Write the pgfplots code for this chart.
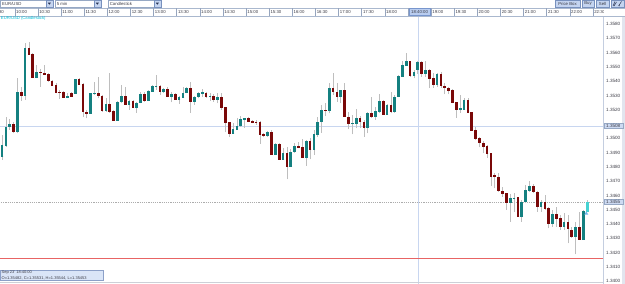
\documentclass[border=0pt]{standalone}
\usepackage{fontspec}
\setmainfont{Liberation Sans}
\usepackage{pgfplots}
\usepackage{pgfplotstable}
\pgfplotsset{compat=1.18}
\definecolor{upc}{RGB}{20,128,128}
\definecolor{dnc}{RGB}{122,8,8}
\definecolor{wick}{RGB}{190,190,190}
\definecolor{lastc}{RGB}{70,210,210}
\definecolor{xhair}{RGB}{200,214,240}
\definecolor{uiborder}{RGB}{150,168,196}
\definecolor{uifill}{RGB}{205,218,242}
\definecolor{ttl}{RGB}{0,190,215}
\definecolor{reddl}{RGB}{232,100,100}
\definecolor{txt}{RGB}{60,60,70}
\definecolor{strip}{RGB}{226,229,238}
\definecolor{scaleb}{RGB}{196,206,224}
\definecolor{tri}{RGB}{110,180,232}
\definecolor{tbline}{RGB}{170,184,206}
\definecolor{sepc}{RGB}{150,165,190}
\definecolor{hlfill}{RGB}{185,205,240}
\definecolor{hldraw}{RGB}{120,150,205}
\definecolor{btnfill}{RGB}{196,212,240}
\definecolor{btndraw}{RGB}{120,145,190}
\definecolor{arrowc}{RGB}{40,50,80}
\definecolor{ftdraw}{RGB}{140,160,200}
\definecolor{ftfill}{RGB}{218,229,247}
\definecolor{botl}{RGB}{205,208,215}
\newcommand\uif{\fontsize{4.3}{5}\selectfont}

\pgfplotstableread{
t o h l c
-20 1.34876 1.35023 1.34848 1.34953
-15 1.34953 1.35151 1.34941 1.35081
-10 1.35081 1.35133 1.35058 1.35100
-5 1.35098 1.35116 1.35035 1.35046
0 1.35046 1.35420 1.35035 1.35326
5 1.35326 1.35361 1.35263 1.35298
10 1.35298 1.35665 1.35268 1.35630
15 1.35630 1.35676 1.35583 1.35590
20 1.35590 1.35595 1.35420 1.35424
25 1.35424 1.35513 1.35420 1.35466
30 1.35462 1.35483 1.35361 1.35459
35 1.35459 1.35513 1.35443 1.35450
40 1.35452 1.35455 1.35396 1.35403
45 1.35403 1.35408 1.35366 1.35373
50 1.35373 1.35385 1.35315 1.35319
55 1.35324 1.35338 1.35275 1.35322
60 1.35324 1.35329 1.35280 1.35284
65 1.35284 1.35319 1.35280 1.35296
70 1.35315 1.35322 1.35291 1.35296
75 1.35315 1.35418 1.35310 1.35415
80 1.35415 1.35420 1.35373 1.35380
85 1.35380 1.35385 1.35151 1.35186
90 1.35186 1.35198 1.35140 1.35177
95 1.35177 1.35319 1.35170 1.35315
100 1.35315 1.35396 1.35303 1.35317
105 1.35315 1.35431 1.35280 1.35298
110 1.35298 1.35303 1.35186 1.35198
115 1.35198 1.35280 1.35186 1.35240
120 1.35240 1.35459 1.35179 1.35186
125 1.35191 1.35198 1.35123 1.35128
130 1.35128 1.35261 1.35123 1.35256
135 1.35256 1.35373 1.35245 1.35298
140 1.35298 1.35361 1.35233 1.35240
145 1.35240 1.35268 1.35198 1.35261
150 1.35261 1.35268 1.35210 1.35217
155 1.35217 1.35256 1.35179 1.35249
160 1.35249 1.35326 1.35245 1.35310
165 1.35310 1.35326 1.35256 1.35268
170 1.35268 1.35338 1.35263 1.35331
175 1.35331 1.35373 1.35326 1.35366
180 1.35366 1.35443 1.35338 1.35369
185 1.35366 1.35373 1.35303 1.35326
190 1.35326 1.35352 1.35317 1.35345
195 1.35345 1.35357 1.35291 1.35296
200 1.35296 1.35326 1.35252 1.35310
205 1.35308 1.35319 1.35273 1.35275
210 1.35275 1.35296 1.35240 1.35287
215 1.35287 1.35361 1.35280 1.35319
220 1.35319 1.35361 1.35315 1.35352
225 1.35352 1.35396 1.35179 1.35261
230 1.35261 1.35296 1.35233 1.35291
235 1.35291 1.35326 1.35280 1.35317
240 1.35315 1.35343 1.35291 1.35322
245 1.35319 1.35326 1.35284 1.35291
250 1.35291 1.35315 1.35263 1.35298
255 1.35298 1.35310 1.35256 1.35275
260 1.35275 1.35315 1.35245 1.35287
265 1.35287 1.35315 1.35198 1.35217
270 1.35217 1.35221 1.35042 1.35112
275 1.35112 1.35116 1.35009 1.35035
280 1.35035 1.35105 1.35030 1.35065
285 1.35065 1.35140 1.35063 1.35088
290 1.35088 1.35156 1.35081 1.35135
295 1.35135 1.35144 1.35074 1.35140
300 1.35140 1.35147 1.35116 1.35121
305 1.35121 1.35128 1.35105 1.35112
310 1.35116 1.35128 1.35093 1.35114
315 1.35116 1.35121 1.34960 1.35028
320 1.35028 1.35039 1.35007 1.35018
325 1.35018 1.35053 1.35011 1.35046
330 1.35046 1.35058 1.34883 1.34890
335 1.34890 1.34965 1.34883 1.34960
340 1.34960 1.34965 1.34853 1.34855
345 1.34855 1.34930 1.34848 1.34895
350 1.34895 1.34937 1.34713 1.34806
355 1.34806 1.34923 1.34801 1.34906
360 1.34906 1.34965 1.34899 1.34946
365 1.34946 1.34976 1.34930 1.34937
370 1.34937 1.34993 1.34860 1.34864
375 1.34864 1.34988 1.34806 1.34981
380 1.34981 1.35000 1.34853 1.34923
385 1.34925 1.35058 1.34883 1.35028
390 1.35028 1.35149 1.35009 1.35116
395 1.35116 1.35233 1.35039 1.35198
400 1.35198 1.35245 1.35156 1.35196
405 1.35193 1.35385 1.35175 1.35354
410 1.35354 1.35455 1.35303 1.35326
415 1.35326 1.35385 1.35256 1.35291
420 1.35291 1.35341 1.35245 1.35338
425 1.35338 1.35385 1.35151 1.35156
430 1.35151 1.35186 1.35063 1.35105
435 1.35105 1.35163 1.35028 1.35107
440 1.35105 1.35205 1.35070 1.35144
445 1.35144 1.35156 1.35074 1.35116
450 1.35116 1.35128 1.35011 1.35074
455 1.35074 1.35186 1.35035 1.35179
460 1.35179 1.35287 1.35144 1.35151
465 1.35151 1.35221 1.35128 1.35191
470 1.35191 1.35310 1.35179 1.35261
475 1.35261 1.35268 1.35163 1.35170
480 1.35170 1.35238 1.35163 1.35233
485 1.35233 1.35326 1.35175 1.35186
490 1.35186 1.35303 1.35179 1.35291
495 1.35291 1.35443 1.35287 1.35436
500 1.35436 1.35541 1.35431 1.35513
505 1.35513 1.35595 1.35506 1.35541
510 1.35541 1.35543 1.35431 1.35438
515 1.35438 1.35478 1.35420 1.35466
520 1.35482 1.35544 1.35453 1.35531
525 1.35532 1.35543 1.35431 1.35455
530 1.35455 1.35541 1.35431 1.35478
535 1.35478 1.35483 1.35354 1.35420
540 1.35420 1.35455 1.35354 1.35378
545 1.35378 1.35455 1.35361 1.35450
550 1.35450 1.35466 1.35354 1.35368
555 1.35368 1.35389 1.35308 1.35354
560 1.35354 1.35357 1.35308 1.35338
565 1.35338 1.35343 1.35245 1.35252
570 1.35252 1.35256 1.35144 1.35203
575 1.35203 1.35303 1.35179 1.35214
580 1.35205 1.35280 1.35198 1.35268
585 1.35268 1.35280 1.35175 1.35182
590 1.35182 1.35186 1.35053 1.35058
595 1.35058 1.35077 1.34988 1.35000
600 1.35000 1.35011 1.34937 1.34969
605 1.34969 1.34981 1.34895 1.34946
610 1.34946 1.34953 1.34864 1.34895
615 1.34895 1.34899 1.34666 1.34731
620 1.34743 1.34755 1.34650 1.34731
625 1.34731 1.34755 1.34626 1.34633
630 1.34633 1.34661 1.34591 1.34615
635 1.34615 1.34619 1.34498 1.34549
640 1.34549 1.34610 1.34414 1.34580
645 1.34582 1.34617 1.34486 1.34585
650 1.34587 1.34591 1.34449 1.34456
655 1.34456 1.34568 1.34416 1.34556
660 1.34556 1.34673 1.34545 1.34638
665 1.34638 1.34701 1.34626 1.34666
670 1.34666 1.34680 1.34615 1.34626
675 1.34626 1.34631 1.34486 1.34521
680 1.34521 1.34568 1.34486 1.34556
685 1.34556 1.34603 1.34498 1.34510
690 1.34510 1.34521 1.34370 1.34405
695 1.34405 1.34498 1.34381 1.34470
700 1.34470 1.34521 1.34381 1.34440
705 1.34440 1.34463 1.34358 1.34381
710 1.34381 1.34475 1.34358 1.34416
715 1.34416 1.34463 1.34265 1.34370
720 1.34358 1.34381 1.34302 1.34316
725 1.34316 1.34416 1.34188 1.34381
730 1.34381 1.34486 1.34288 1.34293
735 1.34293 1.34498 1.34288 1.34491
740 1.34491 1.34568 1.34486 1.34553
}\candles

\begin{document}
\begin{tikzpicture}[x=1pt,y=1pt]
\useasboundingbox (0,0) rectangle (625,284);
\fill[white] (0,0) rectangle (625,284);
\fill[strip] (622,0) rectangle (625,276);
\begin{axis}[at={(0,0)}, anchor=south west, scale only axis,
  width=603pt, height=268pt,
  xmin=-22.6, xmax=760.5, ymin=1.3398, ymax=1.35856,
  axis line style={draw=none}, tick style={draw=none}, major tick length=0pt,
  xtick=\empty,
  ytick={1.340,1.341,1.342,1.343,1.344,1.345,1.346,1.347,1.348,1.349,1.350,1.352,1.353,1.354,1.355,1.356,1.357,1.358},
  yticklabel pos=right, scaled y ticks=false,
  yticklabel style={font=\fontsize{4.6}{5}\selectfont, text=txt, anchor=west, inner sep=0pt, xshift=3pt,
    /pgf/number format/.cd, fixed, fixed zerofill, precision=4, assume math mode=true},
  clip=true]
\draw[xhair, line width=0.6pt] (axis cs:-30,1.35086) -- (axis cs:770,1.35086);
\draw[xhair, line width=0.6pt] (axis cs:520,1.3390) -- (axis cs:520,1.3600);
\draw[gray!65, dash pattern=on 1.2pt off 1pt, line width=0.5pt] (axis cs:-30,1.34553) -- (axis cs:770,1.34553);
\draw[reddl, line width=0.7pt] (axis cs:-30,1.34162) -- (axis cs:770,1.34162);
% wicks
\addplot[draw=none, mark=none, forget plot, error bars/.cd, y dir=plus, y explicit, error mark=none,
  error bar style={draw=wick, line width=0.7pt}]
  table[x=t, y=l, y error plus expr=\thisrow{h}-\thisrow{l}] {\candles};
% up bodies
\addplot[upc, only marks, mark=-, mark size=1.35pt, mark options={line width=0.7pt},
  restrict expr to domain={\thisrow{c}-\thisrow{o}}{0:1},
  error bars/.cd, y dir=plus, y explicit, error mark=none,
  error bar style={draw=upc, line width=2.7pt}]
  table[x=t, y=o, y error plus expr=\thisrow{c}-\thisrow{o}] {\candles};
% down bodies
\addplot[dnc, only marks, mark=-, mark size=1.35pt, mark options={line width=0.7pt},
  restrict expr to domain={\thisrow{o}-\thisrow{c}}{0.000001:1},
  error bars/.cd, y dir=plus, y explicit, error mark=none,
  error bar style={draw=dnc, line width=2.7pt}]
  table[x=t, y=c, y error plus expr=\thisrow{o}-\thisrow{c}] {\candles};
% last (live) candle
\addplot[lastc, only marks, mark=-, mark size=1.35pt, mark options={line width=0.7pt},
  restrict x to domain=739:741,
  error bars/.cd, y dir=plus, y explicit, error mark=none,
  error bar style={draw=lastc, line width=2.7pt}]
  table[x=t, y=o, y error plus expr=\thisrow{c}-\thisrow{o}] {\candles};
\end{axis}
% right scale border
\draw[scaleb, line width=0.9pt] (603.4,0) -- (603.4,276);
% highlighted price labels
\node[fill=uifill, draw=uiborder, line width=0.4pt, inner sep=0.7pt, minimum width=19pt, text=txt,
  font=\fontsize{4.6}{5}\selectfont] at (613.2,158) {1.3508};
\node[fill=uifill, draw=uiborder, line width=0.4pt, inner sep=0.7pt, minimum width=19pt, text=txt,
  font=\fontsize{4.6}{5}\selectfont] at (613.2,82) {1.3455};
% triangle marker
\fill[tri] (584.3,69.3) -- (588.3,69.3) -- (586.3,72.6) -- cycle;
% time bar
\fill[white] (0,267.6) rectangle (625,276.2);
\draw[tbline, line width=0.5pt] (0,276) -- (625,276);
\draw[tbline, line width=0.5pt] (0,267.8) -- (625,267.8);
\begin{scope}
\clip (0,267) rectangle (603,277);
\foreach \k in {-1,...,25} \draw[sepc, line width=0.4pt] ({14.7+23.125*\k},268.3) -- ++(0,7.4);
\foreach \k/\lab in {-1/09:30,0/10:00,1/10:30,2/11:00,3/11:30,4/12:00,5/12:30,6/13:00,7/13:30,8/14:00,9/14:30,10/15:00,11/15:30,12/16:00,13/16:30,14/17:00,15/17:30,16/18:00,18/19:00,19/19:30,20/20:00,21/20:30,22/21:00,23/21:30,24/22:00,25/22:30}
  \node[anchor=west, inner sep=0pt, font=\uif, text=txt] at ({16+23.125*\k},271.9) {\lab};
\end{scope}
\node[fill=hlfill, draw=hldraw, line width=0.4pt, inner sep=0pt, minimum width=21pt, minimum height=7pt, font=\uif, text=txt] at (419.6,271.9) {18:40:00};
% toolbar
\fill[white] (0,276.2) rectangle (625,284);
\foreach \a/\b/\lab in {0.4/53/{EUR/USD},55/101/{5 min},108/161/{Candlestick}} {
  \draw[uiborder, line width=0.4pt, fill=white] (\a,276.9) rectangle (\b,283.6);
  \node[anchor=west, inner sep=0pt, font=\uif, text=txt] at (\a+1.6,280.2) {\lab};
  \draw[btndraw, line width=0.4pt, fill=btnfill] (\b-7,277.2) rectangle (\b-0.3,283.3);
  \fill[arrowc] (\b-5.2,281.3) -- (\b-2.1,281.3) -- (\b-3.65,279.3) -- cycle;
}
\foreach \a/\b/\lab in {555/580/{Price Box},582/594/{Buy},596/609/{Sell}} {
  \node[fill=btnfill, draw=btndraw, line width=0.4pt, inner sep=0pt,
    minimum width={(\b-\a)*1pt}, minimum height=6.6pt, font=\uif, text=txt] at ({(\a+\b)/2},280.2) {\lab};
}
\draw[btndraw, line width=0.4pt, fill=btnfill] (611,276.9) rectangle (624.6,283.5);
\draw[arrowc, line width=0.5pt] (613,278) -- (615,282.5) (614,278) -- (616.5,282) (618.5,278) -- (621.5,282.5) (618.5,278) -- (619.8,278.2);
% title
\node[anchor=west, inner sep=0pt, font=\fontsize{4.2}{5}\selectfont, text=ttl] at (0.8,265.6) {EUR/USD (Candlestick)};
% footer info box
\draw[ftdraw, line width=0.4pt, fill=ftfill] (0.2,3.4) rectangle (103,14);
\node[anchor=west, inner sep=0pt, font=\fontsize{4}{5}\selectfont, text=txt] at (1.5,11.3) {Sep 23' 18:40:00};
\node[anchor=west, inner sep=0pt, font=\fontsize{4}{5}\selectfont, text=txt] at (1.5,6.0) {O=1.35482, C=1.35531, H=1.35544, L=1.35453};
\draw[botl, line width=0.9pt] (0,1.6) -- (603,1.6);
\end{tikzpicture}
\end{document}
